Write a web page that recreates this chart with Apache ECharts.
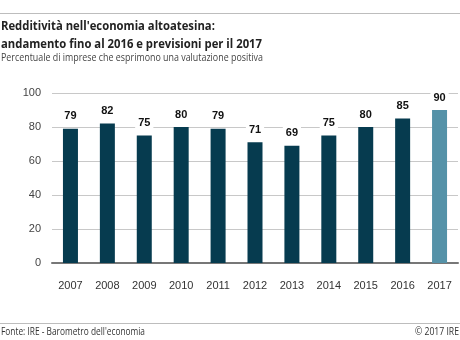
<!DOCTYPE html>
<html><head><meta charset="utf-8">
<script src="https://cdn.jsdelivr.net/npm/echarts@6/dist/echarts.min.js"></script>
<style>html,body{margin:0;padding:0;background:#fff}#c{width:460px;height:340px}</style>
</head><body><div id="c"></div>
<script>
var categories = ['2007','2008','2009','2010','2011','2012','2013','2014','2015','2016','2017'];
var values = [79, 82, 75, 80, 79, 71, 69, 75, 80, 85, 90];
var forecastYear = '2017';
var yTicks = [0, 20, 40, 60, 80, 100];
var titleLines = ["Redditività nell'economia altoatesina:", "andamento fino al 2016 e previsioni per il 2017"];
var subtitleText = 'Percentuale di imprese che esprimono una valutazione positiva';
var sourceText = "Fonte: IRE - Barometro dell'economia";
var copyrightText = '© 2017 IRE';

var HUM = '"Open Sans", "Noto Sans", sans-serif';
var SANS = '"Liberation Sans", Arial, sans-serif';
var mctx = document.createElement('canvas').getContext('2d');
function fitScale(text, font, target) {
  mctx.font = font;
  return target / mctx.measureText(text).width;
}
var titleFont = 'bold 13px ' + HUM;
var subFont = '10.5px ' + HUM;
var footFont = '10px ' + HUM;
var titleScale = fitScale(titleLines[1], titleFont, 261);
var subScale = fitScale(subtitleText, subFont, 262);
var srcScale = fitScale(sourceText, footFont, 144);
var copyScale = fitScale(copyrightText, footFont, 44);

var chart = echarts.init(document.getElementById('c'), null, {renderer: 'canvas'});
var option = {
  animation: false,
  textStyle: {fontFamily: SANS},
  graphic: [
    {type: 'line', shape: {x1: 0, y1: 13.5, x2: 460, y2: 13.5}, style: {stroke: '#bdbdbd', lineWidth: 1}},
    {type: 'line', shape: {x1: 0, y1: 323.5, x2: 460, y2: 323.5}, style: {stroke: '#bdbdbd', lineWidth: 1}},
    {type: 'text', x: 1, y: 18, scaleX: titleScale, originX: 0, style: {text: titleLines.join('\n'), font: titleFont, fill: '#222', lineHeight: 17.5, verticalAlign: 'top'}},
    {type: 'text', x: 1, y: 53, scaleX: subScale, originX: 0, style: {text: subtitleText, font: subFont, fill: '#444', verticalAlign: 'top'}},
    {type: 'text', x: 1, y: 327, scaleX: srcScale, originX: 0, style: {text: sourceText, font: footFont, fill: '#333', verticalAlign: 'top'}},
    {type: 'text', x: 459, y: 327, scaleX: copyScale, originX: 0, style: {text: copyrightText, font: footFont, fill: '#333', align: 'right', verticalAlign: 'top'}}
  ],
  grid: {left: 52, right: 2, top: 93, bottom: 77, containLabel: false},
  xAxis: {
    type: 'category', data: categories,
    axisLine: {lineStyle: {color: '#777', width: 2}},
    axisTick: {show: false},
    axisLabel: {color: '#333', fontSize: 11, margin: 17, fontFamily: SANS}
  },
  yAxis: {
    type: 'value', min: yTicks[0], max: yTicks[yTicks.length-1], interval: 20,
    axisLine: {show: false}, axisTick: {show: false},
    splitLine: {lineStyle: {color: '#c8c8c8', width: 1}},
    axisLabel: {color: '#444', fontSize: 11, margin: 11, fontFamily: SANS}
  },
  series: [{
    type: 'bar', barWidth: 15,
    data: values.map(function(v, i){
      return {value: v, itemStyle: {color: categories[i] === forecastYear ? '#5592a8' : '#063b4f'}};
    }),
    label: {show: true, position: 'top', distance: 6, color: '#111', fontWeight: 'bold', fontSize: 11, fontFamily: SANS,
      backgroundColor: '#fff', padding: [1, 3]}
  }]
};
chart.setOption(option);
</script></body></html>
